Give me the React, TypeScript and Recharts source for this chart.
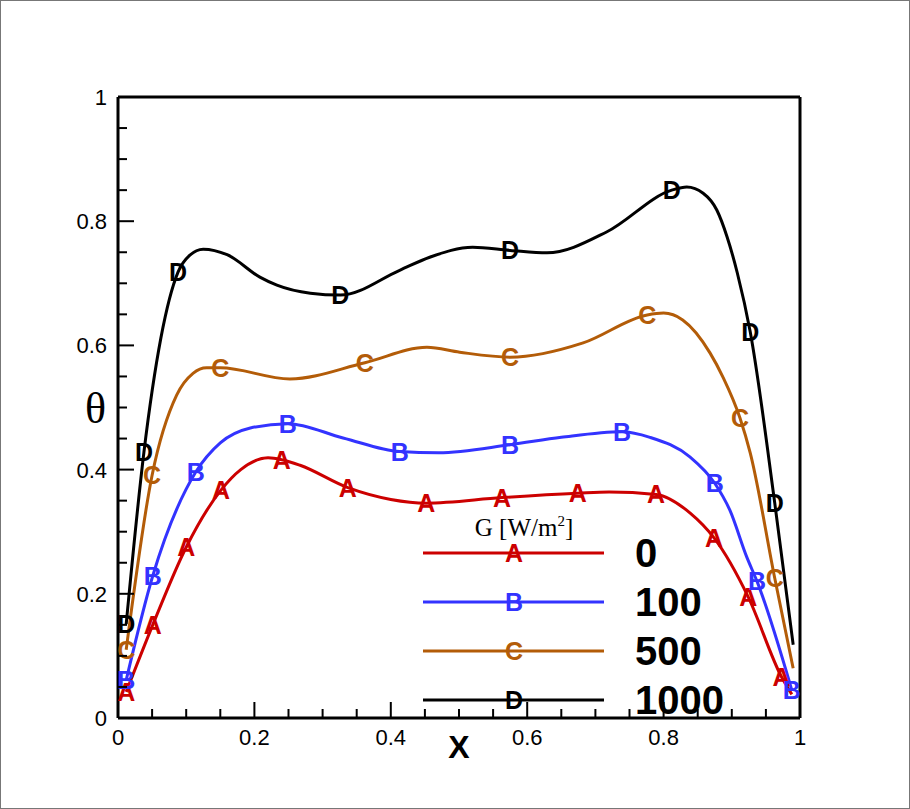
import React from 'react';
import { LineChart, Line, XAxis, YAxis, ReferenceLine, Legend, Label } from 'recharts';

// theta profiles along X for several radiation levels G
const xA = [0.012, 0.051, 0.1, 0.151, 0.18, 0.22, 0.24, 0.267, 0.337, 0.4, 0.452, 0.563, 0.674, 0.72, 0.789, 0.839, 0.874, 0.924, 0.973, 0.988];
const yA = [0.042, 0.15, 0.275, 0.367, 0.4, 0.419, 0.416, 0.407, 0.371, 0.352, 0.346, 0.355, 0.362, 0.364, 0.36, 0.33, 0.29, 0.195, 0.066, 0.038];
const markA = [0, 1, 2, 3, 6, 8, 10, 11, 12, 14, 16, 17, 18];

const xB = [0.012, 0.051, 0.114, 0.15, 0.194, 0.249, 0.33, 0.413, 0.47, 0.575, 0.65, 0.739, 0.78, 0.839, 0.875, 0.897, 0.922, 0.937, 0.988];
const yB = [0.061, 0.229, 0.396, 0.443, 0.467, 0.474, 0.451, 0.429, 0.427, 0.44, 0.452, 0.461, 0.452, 0.42, 0.378, 0.335, 0.259, 0.22, 0.045];
const markB = [0, 1, 2, 5, 7, 9, 11, 14, 17, 18];

const xC = [0.012, 0.05, 0.086, 0.11, 0.13, 0.15, 0.252, 0.362, 0.453, 0.501, 0.575, 0.682, 0.776, 0.8, 0.828, 0.868, 0.887, 0.912, 0.927, 0.963, 0.99];
const yC = [0.11, 0.391, 0.52, 0.555, 0.564, 0.564, 0.546, 0.572, 0.597, 0.589, 0.581, 0.604, 0.649, 0.652, 0.641, 0.588, 0.549, 0.483, 0.427, 0.225, 0.08];
const markC = [0, 1, 5, 7, 10, 12, 17, 19];

const xD = [0.012, 0.038, 0.088, 0.105, 0.125, 0.16, 0.208, 0.233, 0.282, 0.326, 0.413, 0.457, 0.52, 0.575, 0.629, 0.717, 0.812, 0.834, 0.858, 0.878, 0.893, 0.908, 0.927, 0.963, 0.99];
const yD = [0.151, 0.428, 0.718, 0.745, 0.755, 0.746, 0.71, 0.697, 0.684, 0.681, 0.721, 0.742, 0.758, 0.753, 0.749, 0.783, 0.85, 0.855, 0.845, 0.818, 0.775, 0.717, 0.622, 0.346, 0.118];
const markD = [0, 1, 2, 9, 13, 16, 22, 23];

const gLabels = ['0', '100', '500', '1000'];
const letters = ['A', 'B', 'C', 'D'];
const colors = ['#cc0000', '#3333ff', '#b35c08', '#000000'];

const ticks = [0, 0.05, 0.1, 0.15, 0.2, 0.25, 0.3, 0.35, 0.4, 0.45, 0.5, 0.55, 0.6, 0.65, 0.7, 0.75, 0.8, 0.85, 0.9, 0.95, 1];
const majorTicks = [0, 0.2, 0.4, 0.6, 0.8, 1];

const build = (xs: number[], ys: number[], marks: number[]) =>
  xs.map((x, i) => ({ x, y: ys[i], m: marks.includes(i) }));

const series = [
  build(xA, yA, markA),
  build(xB, yB, markB),
  build(xC, yC, markC),
  build(xD, yD, markD),
].map((points, i) => ({ points, name: gLabels[i], letter: letters[i], color: colors[i] }));

const SANS = '"Liberation Sans", Arial, sans-serif';
const SERIF = '"Liberation Serif", "Times New Roman", serif';

const isMajor = (v: number) => majorTicks.some(t => Math.abs(t - v) < 1e-6);

const YTick = (props: any) => {
  const { x, y, payload } = props;
  const major = isMajor(payload.value);
  return (
    <g>
      <line x1={x} x2={x + (major ? 16 : 9)} y1={y} y2={y} stroke="#000" strokeWidth={2} />
      {major && (
        <text x={x - 11} y={y + 8} textAnchor="end" fontFamily={SANS} fontSize={22} fill="#000">
          {String(payload.value)}
        </text>
      )}
    </g>
  );
};

const XTick = (props: any) => {
  const { x, y, payload } = props;
  const major = isMajor(payload.value);
  return (
    <g>
      <line x1={x} x2={x} y1={y} y2={y - (major ? 16 : 9)} stroke="#000" strokeWidth={2} />
      {major && (
        <text x={x} y={y + 27} textAnchor="middle" fontFamily={SANS} fontSize={22} fill="#000">
          {String(payload.value)}
        </text>
      )}
    </g>
  );
};

const letterDot = (letter: string, color: string) => (props: any) => {
  const { cx, cy, payload, index } = props;
  if (!payload.m) return <g key={index} />;
  return (
    <text key={index} x={cx} y={cy + 9} textAnchor="middle" fontFamily={SANS} fontWeight="bold" fontSize={25} fill={color}>
      {letter}
    </text>
  );
};

const renderLegend = () => (
  <svg width={350} height={230}>
    <text x={104} y={31} textAnchor="middle" fontFamily={SERIF} fontSize={25} fill="#000">
      G [W/m<tspan dy={-10} fontSize={15}>2</tspan><tspan dy={10}>]</tspan>
    </text>
    {series.map((s, i) => {
      const y = 48 + i * 49;
      return (
        <g key={s.name}>
          <line x1={3} x2={184} y1={y} y2={y} stroke={s.color} strokeWidth={3} />
          <text x={94} y={y + 9} textAnchor="middle" fontFamily={SANS} fontWeight="bold" fontSize={25} fill={s.color}>
            {s.letter}
          </text>
          <text x={215} y={y + 14} fontFamily={SANS} fontWeight="bold" fontSize={40} fill="#000">
            {s.name}
          </text>
        </g>
      );
    })}
  </svg>
);

export default function App() {
  return (
    <div style={{ position: 'absolute', left: 0, top: 0, width: 910, height: 809, background: '#fff' }}>
      <LineChart width={910} height={809} margin={{ top: 97, right: 110, left: 58, bottom: 51 }}>
        <XAxis
          xAxisId="x"
          dataKey="x"
          type="number"
          domain={[0, 1]}
          ticks={ticks}
          interval={0}
          tickSize={0}
          tickMargin={0}
          tickLine={false}
          tick={<XTick />}
          height={40}
          axisLine={{ stroke: '#000', strokeWidth: 3 }}
        >
          <Label value="X" position="insideBottom" offset={0} fontFamily={SANS} fontWeight="bold" fontSize={32} fill="#000" />
        </XAxis>
        <YAxis
          yAxisId="y"
          type="number"
          domain={[0, 1]}
          ticks={ticks}
          interval={0}
          tickSize={0}
          tickMargin={0}
          tickLine={false}
          tick={<YTick />}
          width={60}
          axisLine={{ stroke: '#000', strokeWidth: 3 }}
        >
          <Label value="θ" position="insideLeft" offset={27} fontFamily={SERIF} fontSize={44} fill="#000" />
        </YAxis>
        <ReferenceLine xAxisId="x" yAxisId="y" y={1} stroke="#000" strokeWidth={3} />
        <ReferenceLine xAxisId="x" yAxisId="y" x={1} stroke="#000" strokeWidth={3} />
        {series.map(s => (
          <Line
            key={s.name}
            xAxisId="x"
            yAxisId="y"
            data={s.points}
            dataKey="y"
            name={s.name}
            type="monotone"
            stroke={s.color}
            strokeWidth={3}
            dot={letterDot(s.letter, s.color)}
            activeDot={false}
            isAnimationActive={false}
          />
        ))}
        <Legend
          layout="horizontal"
          verticalAlign="middle"
          align="center"
          content={renderLegend}
          wrapperStyle={{ left: 420, top: 505, width: 350, height: 230 }}
        />
      </LineChart>
      <div
        style={{
          position: 'absolute',
          left: 0,
          top: 0,
          width: 910,
          height: 809,
          boxSizing: 'border-box',
          border: '1px solid #777',
          pointerEvents: 'none',
        }}
      />
    </div>
  );
}
